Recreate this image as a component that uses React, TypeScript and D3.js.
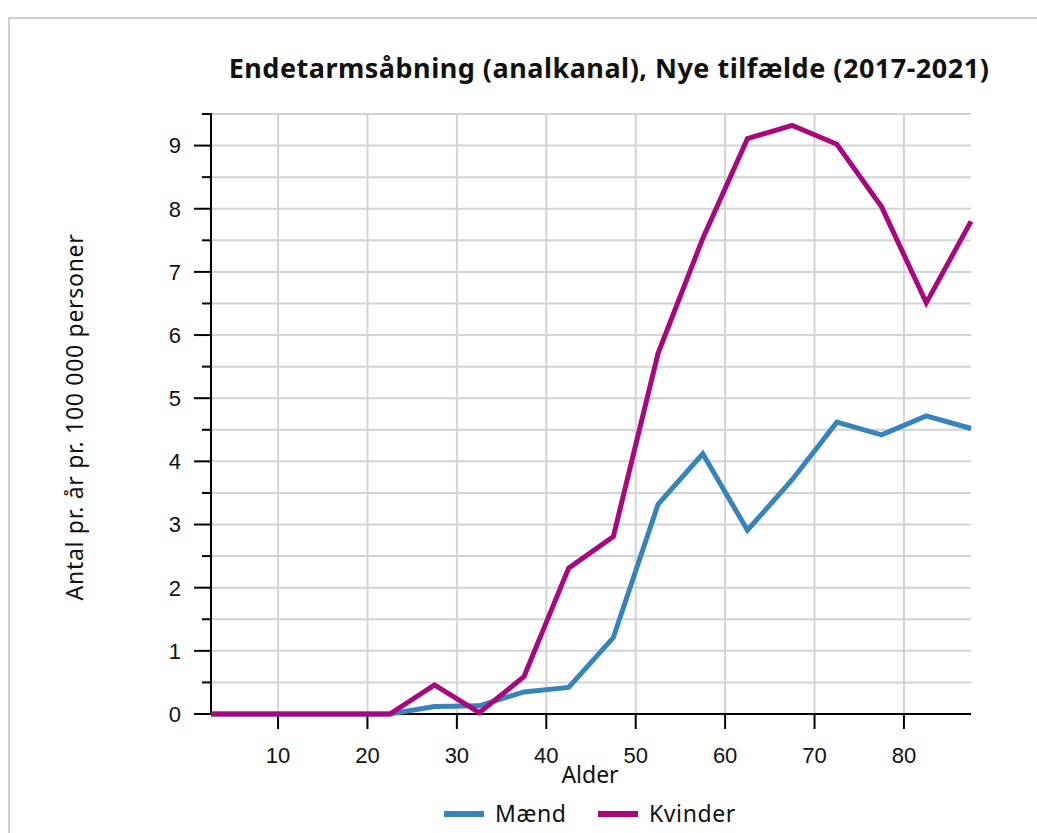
import { useEffect, useRef } from 'react';
import * as d3 from 'd3';

const ages = [2.5, 7.5, 12.5, 17.5, 22.5, 27.5, 32.5, 37.5, 42.5, 47.5, 52.5, 57.5, 62.5, 67.5, 72.5, 77.5, 82.5, 87.5];
const maend = [0, 0, 0, 0, 0, 0.12, 0.13, 0.35, 0.42, 1.21, 3.32, 4.12, 2.91, 3.71, 4.62, 4.42, 4.72, 4.52];
const kvinder = [0, 0, 0, 0, 0, 0.46, 0.02, 0.59, 2.31, 2.81, 5.71, 7.53, 9.11, 9.32, 9.02, 8.03, 6.51, 7.8];
const xTicks = [10, 20, 30, 40, 50, 60, 70, 80];
const yTicks = [0, 1, 2, 3, 4, 5, 6, 7, 8, 9];

const seriesNames = ['Mænd', 'Kvinder'];
const colors = ['#3784bb', '#a8077e'];

export default function App() {
  const ref = useRef<SVGSVGElement>(null);

  useEffect(() => {
    if (!ref.current) return;
    const svg = d3.select(ref.current);
    svg.selectAll('*').remove();

    const x = d3.scaleLinear().domain([2.5, 87.5]).range([211, 971]);
    const y = d3.scaleLinear().domain([0, 9.5]).range([714, 114]);

    // outer frame: only the left and top edges are in view
    svg.append('path')
      .attr('d', 'M9,833V18H1037')
      .attr('fill', 'none').attr('stroke', '#cfcfcf').attr('stroke-width', 2);

    // title
    svg.append('text')
      .attr('x', 609).attr('y', 78)
      .attr('text-anchor', 'middle')
      .style('font-family', '"Noto Sans", sans-serif')
      .style('font-weight', 'bold')
      .style('font-size', '27px')
      .style('letter-spacing', '0.5px')
      .attr('fill', '#111')
      .text('Endetarmsåbning (analkanal), Nye tilfælde (2017-2021)');

    const grid = svg.append('g');
    // horizontal gridlines every half unit
    d3.range(0.5, 9.51, 0.5).forEach(v => {
      grid.append('line')
        .attr('x1', 211).attr('x2', 971)
        .attr('y1', y(v)).attr('y2', y(v))
        .attr('stroke', '#d3d3d3').attr('stroke-width', 2);
    });
    xTicks.forEach(v => {
      grid.append('line')
        .attr('x1', x(v)).attr('x2', x(v))
        .attr('y1', 114).attr('y2', 714)
        .attr('stroke', '#d3d3d3').attr('stroke-width', 2);
    });

    const tickFont = '"Liberation Sans", Arial, sans-serif';

    // y axis
    const yAxis = svg.append('g');
    yAxis.append('line')
      .attr('x1', 211).attr('x2', 211).attr('y1', 113).attr('y2', 715)
      .attr('stroke', '#000').attr('stroke-width', 2);
    d3.range(0, 9.51, 0.5).forEach(v => {
      const major = Number.isInteger(v);
      yAxis.append('line')
        .attr('x1', major ? 194 : 202).attr('x2', 211)
        .attr('y1', y(v)).attr('y2', y(v))
        .attr('stroke', '#000').attr('stroke-width', 2);
    });
    yTicks.forEach(v => {
      yAxis.append('text')
        .attr('x', 181).attr('y', y(v))
        .attr('dy', '0.36em')
        .attr('text-anchor', 'end')
        .style('font-family', tickFont)
        .style('font-size', '22px')
        .attr('fill', '#111')
        .text(v);
    });

    // x axis
    const xAxis = svg.append('g');
    xAxis.append('line')
      .attr('x1', 194).attr('x2', 971).attr('y1', 714).attr('y2', 714)
      .attr('stroke', '#000').attr('stroke-width', 2);
    xTicks.forEach(v => {
      xAxis.append('line')
        .attr('x1', x(v)).attr('x2', x(v)).attr('y1', 714).attr('y2', 729)
        .attr('stroke', '#000').attr('stroke-width', 2);
      xAxis.append('text')
        .attr('x', x(v)).attr('y', 763)
        .attr('text-anchor', 'middle')
        .style('font-family', tickFont)
        .style('font-size', '22px')
        .attr('fill', '#111')
        .text(v);
    });

    // axis titles
    svg.append('text')
      .attr('x', 590).attr('y', 783)
      .attr('text-anchor', 'middle')
      .style('font-family', '"Noto Sans", sans-serif')
      .style('font-size', '23px')
      .attr('fill', '#111')
      .text('Alder');
    svg.append('text')
      .attr('transform', 'translate(83,417) rotate(-90)')
      .attr('text-anchor', 'middle')
      .style('font-family', '"Noto Sans", sans-serif')
      .style('font-size', '23px')
      .style('letter-spacing', '0.7px')
      .attr('fill', '#111')
      .text('Antal pr. år pr. 100 000 personer');

    // lines
    const line = d3.line<number>()
      .x((_, i) => x(ages[i]))
      .y(d => y(d));
    [maend, kvinder].forEach((vals, i) => {
      svg.append('path')
        .attr('d', line(vals))
        .attr('fill', 'none')
        .attr('stroke', colors[i])
        .attr('stroke-width', 5)
        .attr('stroke-linejoin', 'miter');
    });

    // legend
    const legendX = [444, 598];
    seriesNames.forEach((name, i) => {
      svg.append('line')
        .attr('x1', legendX[i]).attr('x2', legendX[i] + 40)
        .attr('y1', 814).attr('y2', 814)
        .attr('stroke', colors[i]).attr('stroke-width', 6);
      svg.append('text')
        .attr('x', legendX[i] + 51).attr('y', 814)
        .attr('dy', '0.35em')
        .style('font-family', '"Noto Sans", sans-serif')
        .style('font-size', '23px')
        .style('letter-spacing', '0.6px')
        .attr('fill', '#111')
        .text(name);
    });
  }, []);

  return (
    <svg
      ref={ref}
      width={1037}
      height={833}
      style={{ display: 'block', position: 'absolute', left: 0, top: 0 }}
    />
  );
}
